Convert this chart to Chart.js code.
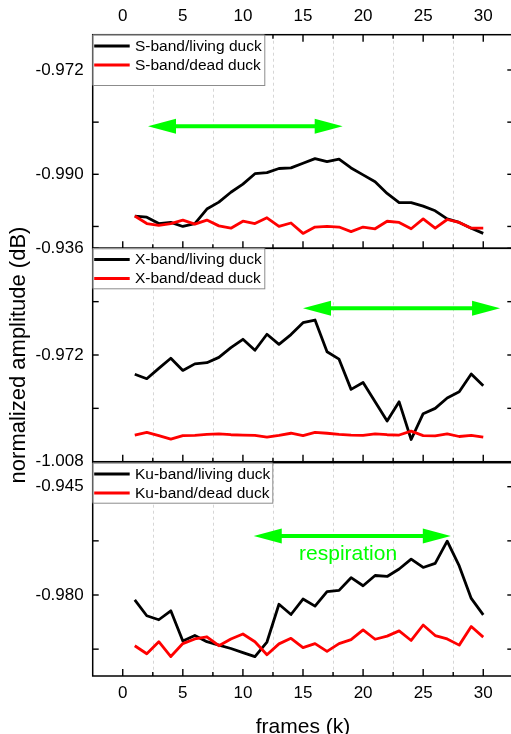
<!DOCTYPE html>
<html>
<head>
<meta charset="utf-8">
<script src="https://cdn.jsdelivr.net/npm/chart.js@4.4.1/dist/chart.umd.min.js"></script>
<style>
  html, body { margin: 0; padding: 0; overflow: hidden; background: #fff; }
  #wrap { position: relative; width: 511px; height: 734px; overflow: hidden; }
  .panel { position: absolute; left: 0; width: 520px; }
</style>
</head>
<body>
<div id="wrap">
  <div class="panel" style="top:0;height:272px"><canvas id="sband"></canvas></div>
  <div class="panel" style="top:200px;height:300px"><canvas id="xband"></canvas></div>
  <div class="panel" style="top:440px;height:302px"><canvas id="kuband"></canvas></div>
</div>
<script>
// frames k = 1..30
const frames = [1, 2, 3, 4, 5, 6, 7, 8, 9, 10, 11, 12, 13, 14, 15, 16, 17, 18, 19, 20, 21, 22, 23, 24, 25, 26, 27, 28, 29, 30];

const sLiving = [-0.9972, -0.9974, -0.9985, -0.9983, -0.9990, -0.9985, -0.9960, -0.9948, -0.9931, -0.9917, -0.9899, -0.9897, -0.9890, -0.9889, -0.9881, -0.9873, -0.9878, -0.9874, -0.9889, -0.9901, -0.9913, -0.9933, -0.9949, -0.9949, -0.9955, -0.9963, -0.9977, -0.9983, -0.9993, -1.0002];
const sDead = [-0.9972, -0.9985, -0.9988, -0.9985, -0.9979, -0.9986, -0.9979, -0.9989, -0.9993, -0.9981, -0.9985, -0.9975, -0.9990, -0.9984, -1.0002, -0.9991, -0.9990, -0.9991, -0.9999, -0.9991, -0.9994, -0.9981, -0.9983, -0.9994, -0.9977, -0.9993, -0.9978, -0.9983, -0.9993, -0.9993];

const xLiving = [-0.9785, -0.9800, -0.9765, -0.9731, -0.9772, -0.9750, -0.9746, -0.9728, -0.9695, -0.9667, -0.9704, -0.9650, -0.9684, -0.9651, -0.9611, -0.9602, -0.9709, -0.9734, -0.9836, -0.9813, -0.9878, -0.9943, -0.9878, -1.0005, -0.9918, -0.9900, -0.9865, -0.9844, -0.9784, -0.9824];
const xDead = [-0.9990, -0.9981, -0.9992, -1.0004, -0.9992, -0.9991, -0.9988, -0.9986, -0.9989, -0.9990, -0.9991, -0.9997, -0.9991, -0.9984, -0.9992, -0.9981, -0.9984, -0.9988, -0.9990, -0.9991, -0.9986, -0.9989, -0.9990, -0.9977, -0.9992, -0.9993, -0.9986, -0.9995, -0.9991, -0.9997];

const kuLiving = [-0.9816, -0.9867, -0.9880, -0.9851, -0.9949, -0.9931, -0.9951, -0.9962, -0.9973, -0.9986, -0.9999, -0.9952, -0.9830, -0.9863, -0.9813, -0.9836, -0.9789, -0.9785, -0.9744, -0.9770, -0.9737, -0.9740, -0.9716, -0.9684, -0.9711, -0.9698, -0.9626, -0.9706, -0.9811, -0.9864];
const kuDead = [-0.9964, -0.9990, -0.9951, -0.9999, -0.9957, -0.9942, -0.9935, -0.9964, -0.9942, -0.9926, -0.9951, -0.9993, -0.9958, -0.9940, -0.9970, -0.9957, -0.9982, -0.9957, -0.9944, -0.9913, -0.9943, -0.9933, -0.9916, -0.9947, -0.9897, -0.9931, -0.9942, -0.9962, -0.9902, -0.9936];

// axes
const frameRange = [-2.5, 32.5];
const frameTicks = [0, 5, 10, 15, 20, 25, 30];
const frameMinor = [2.5, 7.5, 12.5, 17.5, 22.5, 27.5];

const sRange = [-1.00277, -0.96591];
const sTicks = [-0.999, -0.990, -0.981, -0.972];
const sLabels = [-0.990, -0.972];

const xRange = [-1.008, -0.936];
const xTicks = [-1.008, -0.990, -0.972, -0.954, -0.936];
const xLabels = [-1.008, -0.972, -0.936];

const kuRange = [-1.00618, -0.93724];
const kuTicks = [-0.9975, -0.980, -0.9625, -0.945];
const kuLabels = [-0.980, -0.945];

// green respiration arrows (S, X, Ku)
const arrowStart = [2.1, 15.0, 10.9];
const arrowEnd = [18.3, 31.4, 27.3];
const arrowLevel = [-0.9817, -0.9562, -0.9609];
const noteText = 'respiration';
const noteAt = [18.75, -0.9668];

const fontFamily = '"Liberation Sans", Arial, sans-serif';
Chart.defaults.font.family = fontFamily;
Chart.defaults.color = '#000';

const green = '#00ff00';

function drawArrow(ctx, x1, x2, yy) {
  const head = 28, half = 7.5;
  ctx.strokeStyle = green;
  ctx.fillStyle = green;
  ctx.lineWidth = 4;
  ctx.beginPath();
  ctx.moveTo(x1 + head - 2, yy);
  ctx.lineTo(x2 - head + 2, yy);
  ctx.stroke();
  ctx.beginPath();
  ctx.moveTo(x1, yy);
  ctx.lineTo(x1 + head, yy - half);
  ctx.lineTo(x1 + head, yy + half);
  ctx.closePath();
  ctx.fill();
  ctx.beginPath();
  ctx.moveTo(x2, yy);
  ctx.lineTo(x2 - head, yy - half);
  ctx.lineTo(x2 - head, yy + half);
  ctx.closePath();
  ctx.fill();
}

// frame, inward ticks, dotted grid, boxed legend and arrows
const panelDecor = {
  id: 'panelDecor',
  beforeDatasetsDraw(chart) {
    const { ctx, chartArea: a, scales: { x } } = chart;
    ctx.save();
    ctx.strokeStyle = '#d6d6d6';
    ctx.lineWidth = 1;
    ctx.setLineDash([3, 3]);
    frameMinor.forEach(v => {
      const px = Math.round(x.getPixelForValue(v)) + 0.5;
      ctx.beginPath();
      ctx.moveTo(px, a.top);
      ctx.lineTo(px, a.bottom);
      ctx.stroke();
    });
    ctx.restore();
  },
  afterDatasetsDraw(chart, args, opts) {
    const { ctx, chartArea: a, scales: { x, y } } = chart;
    ctx.save();
    ctx.setLineDash([]);
    ctx.strokeStyle = '#000';
    ctx.lineWidth = 1.5;
    ctx.strokeRect(a.left, a.top, a.right - a.left, a.bottom - a.top);

    ctx.lineWidth = 1.4;
    const vtick = (px, y0, len) => {
      ctx.beginPath(); ctx.moveTo(px, y0); ctx.lineTo(px, y0 + len); ctx.stroke();
    };
    frameTicks.forEach(v => {
      const px = x.getPixelForValue(v);
      vtick(px, a.bottom, -7);
      if (opts.topTicks) vtick(px, a.top, 7);
    });
    frameMinor.forEach(v => {
      const px = x.getPixelForValue(v);
      vtick(px, a.bottom, -4);
      if (opts.topTicks) vtick(px, a.top, 4);
    });
    opts.yTicks.forEach(v => {
      const py = y.getPixelForValue(v);
      ctx.beginPath(); ctx.moveTo(a.left, py); ctx.lineTo(a.left + 6, py); ctx.stroke();
      ctx.beginPath(); ctx.moveTo(a.right, py); ctx.lineTo(a.right - 6, py); ctx.stroke();
    });

    // legend
    ctx.fillStyle = '#fff';
    ctx.fillRect(a.left, a.top, opts.legendW, opts.legendH);
    ctx.strokeStyle = '#8c8c8c';
    ctx.lineWidth = 1;
    ctx.strokeRect(a.left + 0.5, a.top + 0.5, opts.legendW, opts.legendH);
    ctx.font = '15.5px ' + fontFamily;
    ctx.textBaseline = 'middle';
    ctx.textAlign = 'left';
    chart.data.datasets.forEach((ds, i) => {
      const yy = a.top + 11.3 + i * 19;
      ctx.strokeStyle = ds.borderColor;
      ctx.lineWidth = 3;
      ctx.beginPath(); ctx.moveTo(a.left + 1.5, yy); ctx.lineTo(a.left + 37, yy); ctx.stroke();
      ctx.fillStyle = '#000';
      ctx.fillText(ds.label, a.left + 42.3, yy + 0.5);
    });

    // respiration arrow
    const k = opts.arrow;
    drawArrow(ctx, x.getPixelForValue(arrowStart[k]), x.getPixelForValue(arrowEnd[k]), y.getPixelForValue(arrowLevel[k]));
    if (opts.note) {
      ctx.fillStyle = green;
      ctx.font = '21px ' + fontFamily;
      ctx.textAlign = 'center';
      ctx.textBaseline = 'middle';
      ctx.fillText(noteText, x.getPixelForValue(noteAt[0]), y.getPixelForValue(noteAt[1]));
    }
    ctx.restore();
  }
};

function makePanel(id, p) {
  const datasets = [
    { label: p.names[0], data: frames.map((f, i) => ({ x: f, y: p.living[i] })), borderColor: '#000000', order: 1 },
    { label: p.names[1], data: frames.map((f, i) => ({ x: f, y: p.dead[i] })), borderColor: '#ff0000', order: 0 }
  ];
  return new Chart(document.getElementById(id), {
    type: 'line',
    data: { datasets },
    options: {
      responsive: true,
      maintainAspectRatio: false,
      animation: false,
      events: [],
      elements: {
        point: { radius: 0 },
        line: { borderWidth: 2.8, tension: 0, borderJoinStyle: 'round', fill: false }
      },
      layout: { padding: p.padding },
      plugins: {
        legend: { display: false },
        tooltip: { enabled: false },
        panelDecor: p.decor
      },
      scales: {
        x: {
          type: 'linear',
          min: frameRange[0],
          max: frameRange[1],
          position: p.xPos || 'bottom',
          display: !!p.xPos,
          grid: { display: false, drawTicks: false },
          border: { display: false },
          afterBuildTicks: s => { s.ticks = frameTicks.map(v => ({ value: v })); },
          afterFit: s => { s.height = p.xHeight || 0; },
          ticks: { autoSkip: false, maxRotation: 0, padding: p.xPad || 0, font: { size: 17 }, color: '#000' },
          title: {
            display: !!p.xTitle,
            text: p.xTitle || '',
            font: { size: 21 },
            color: '#000',
            padding: { top: 0, bottom: 2.4 }
          }
        },
        y: {
          type: 'linear',
          min: p.range[0],
          max: p.range[1],
          grid: { display: false, drawTicks: false },
          border: { display: false },
          afterBuildTicks: s => { s.ticks = p.labels.map(v => ({ value: v })); },
          afterFit: s => { s.width = 92.7; },
          ticks: { padding: 9, font: { size: 17 }, color: '#000', callback: v => v.toFixed(3) },
          title: {
            display: !!p.yTitle,
            text: p.yTitle || '',
            font: { size: 22 },
            color: '#000',
            padding: { top: 5.3, bottom: 0 }
          }
        }
      }
    },
    plugins: [panelDecor]
  });
}

makePanel('sband', {
  names: ['S-band/living duck', 'S-band/dead duck'],
  living: sLiving, dead: sDead,
  range: sRange, labels: sLabels,
  padding: { top: 0, bottom: 23.7, left: 0, right: 6.7 },
  xPos: 'top', xHeight: 34.7, xPad: 8.5,
  decor: { topTicks: true, yTicks: sTicks, legendW: 171.6, legendH: 50.3, arrow: 0, note: false }
});

makePanel('xband', {
  names: ['X-band/living duck', 'X-band/dead duck'],
  living: xLiving, dead: xDead,
  range: xRange, labels: xLabels,
  padding: { top: 48.3, bottom: 38.3, left: 0, right: 6.7 },
  yTitle: 'normalized amplitude (dB)',
  decor: { topTicks: false, yTicks: xTicks, legendW: 171.6, legendH: 40, arrow: 1, note: false }
});

makePanel('kuband', {
  names: ['Ku-band/living duck', 'Ku-band/dead duck'],
  living: kuLiving, dead: kuDead,
  range: kuRange, labels: kuLabels,
  padding: { top: 22.7, bottom: 0, left: 0, right: 6.7 },
  xPos: 'bottom', xHeight: 66, xPad: 6.8, xTitle: 'frames (k)',
  decor: { topTicks: false, yTicks: kuTicks, legendW: 179.6, legendH: 40, arrow: 2, note: true }
});
</script>
</body>
</html>
